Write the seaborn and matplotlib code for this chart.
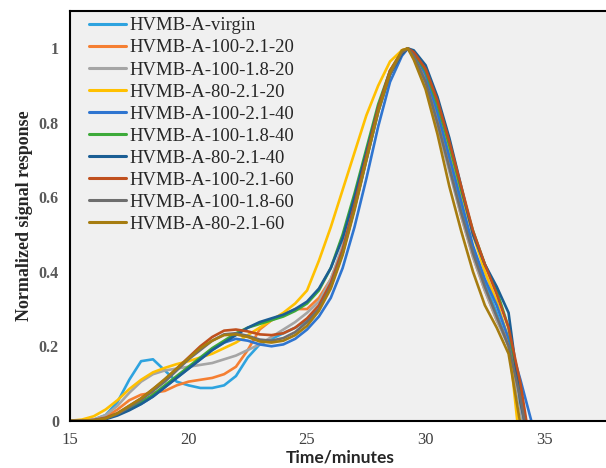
import numpy as np
import pandas as pd
import matplotlib
matplotlib.use('Agg')
import matplotlib.pyplot as plt
import seaborn as sns

# Shared time grid (minutes)
time_min = [15, 15.5, 16, 16.5, 17, 17.5, 18, 18.5, 19, 19.5, 20, 20.5, 21, 21.5,
            22, 22.5, 23, 23.5, 24, 24.5, 25, 25.5, 26, 26.5, 27, 27.5, 28, 28.5,
            29, 29.25, 29.5, 30, 30.5, 31, 31.5, 32, 32.5, 33, 33.5, 34, 34.5, 35]

# Normalized signal for each sample
virgin = [0, 0, 0.003, 0.015, 0.05, 0.11, 0.16, 0.165, 0.135, 0.105, 0.095, 0.088, 0.088, 0.095,
          0.12, 0.17, 0.205, 0.22, 0.235, 0.25, 0.27, 0.30, 0.36, 0.45, 0.57, 0.70, 0.83, 0.93,
          0.99, 1.0, 0.985, 0.92, 0.82, 0.69, 0.57, 0.46, 0.37, 0.29, 0.20, 0.05, -0.15, -0.3]
a100_21_20 = [0, 0, 0.002, 0.01, 0.03, 0.055, 0.07, 0.075, 0.08, 0.095, 0.105, 0.11, 0.115, 0.125,
              0.145, 0.19, 0.245, 0.27, 0.285, 0.30, 0.30, 0.33, 0.38, 0.46, 0.58, 0.71, 0.84, 0.94,
              0.995, 1.0, 0.98, 0.91, 0.80, 0.68, 0.55, 0.44, 0.35, 0.27, 0.21, 0.06, -0.1, -0.3]
a100_18_20 = [0, 0, 0.003, 0.015, 0.04, 0.075, 0.105, 0.125, 0.135, 0.14, 0.145, 0.15, 0.155, 0.165,
              0.175, 0.19, 0.205, 0.225, 0.245, 0.265, 0.29, 0.32, 0.38, 0.47, 0.59, 0.72, 0.84, 0.94,
              0.99, 1.0, 0.975, 0.90, 0.79, 0.67, 0.55, 0.44, 0.35, 0.27, 0.20, 0.03, -0.15, -0.3]
a80_21_20 = [0, 0.003, 0.012, 0.03, 0.055, 0.085, 0.11, 0.13, 0.142, 0.152, 0.16, 0.17, 0.18, 0.195,
             0.21, 0.23, 0.25, 0.27, 0.29, 0.315, 0.35, 0.43, 0.52, 0.62, 0.72, 0.82, 0.90, 0.965,
             0.995, 1.0, 0.985, 0.93, 0.84, 0.73, 0.61, 0.50, 0.40, 0.32, 0.22, -0.08, -0.3, -0.4]
a100_21_40 = [0, 0, 0, 0.006, 0.018, 0.03, 0.045, 0.065, 0.09, 0.115, 0.14, 0.165, 0.19, 0.21,
              0.22, 0.215, 0.205, 0.20, 0.205, 0.22, 0.245, 0.28, 0.33, 0.41, 0.52, 0.65, 0.79, 0.91,
              0.98, 1.0, 0.99, 0.93, 0.83, 0.71, 0.59, 0.47, 0.38, 0.31, 0.22, 0.11, -0.01, -0.2]
a100_18_40 = [0, 0, 0.001, 0.006, 0.018, 0.032, 0.05, 0.07, 0.095, 0.12, 0.145, 0.17, 0.195, 0.215,
              0.235, 0.25, 0.26, 0.27, 0.28, 0.295, 0.315, 0.35, 0.41, 0.50, 0.61, 0.73, 0.85, 0.94,
              0.99, 1.0, 0.99, 0.94, 0.85, 0.74, 0.62, 0.51, 0.42, 0.35, 0.25, 0.07, -0.1, -0.3]
a80_21_40 = [0, 0, 0, 0.004, 0.014, 0.028, 0.045, 0.065, 0.09, 0.115, 0.14, 0.165, 0.19, 0.21,
             0.23, 0.25, 0.265, 0.275, 0.285, 0.30, 0.32, 0.355, 0.41, 0.49, 0.60, 0.72, 0.84, 0.93,
             0.985, 1.0, 0.995, 0.955, 0.87, 0.76, 0.63, 0.50, 0.42, 0.36, 0.29, 0.05, -0.1, -0.3]
a100_21_60 = [0, 0, 0.002, 0.008, 0.02, 0.04, 0.06, 0.085, 0.11, 0.14, 0.17, 0.20, 0.225, 0.242,
              0.245, 0.24, 0.232, 0.23, 0.235, 0.25, 0.275, 0.31, 0.37, 0.46, 0.58, 0.71, 0.84, 0.94,
              0.99, 1.0, 0.99, 0.945, 0.86, 0.75, 0.63, 0.51, 0.42, 0.34, 0.25, 0.10, -0.1, -0.3]
a100_18_60 = [0, 0, 0.001, 0.006, 0.018, 0.036, 0.056, 0.08, 0.105, 0.135, 0.165, 0.19, 0.215, 0.232,
              0.235, 0.228, 0.218, 0.215, 0.222, 0.238, 0.265, 0.30, 0.36, 0.45, 0.57, 0.70, 0.83, 0.93,
              0.99, 1.0, 0.98, 0.91, 0.80, 0.68, 0.56, 0.45, 0.36, 0.28, 0.20, 0.06, -0.12, -0.3]
a80_21_60 = [0, 0, 0.001, 0.006, 0.02, 0.04, 0.06, 0.085, 0.112, 0.14, 0.168, 0.195, 0.215, 0.23,
             0.232, 0.225, 0.213, 0.21, 0.215, 0.23, 0.255, 0.295, 0.355, 0.445, 0.565, 0.70, 0.83, 0.935,
             0.995, 1.0, 0.97, 0.89, 0.77, 0.63, 0.51, 0.40, 0.31, 0.25, 0.18, -0.01, -0.2, -0.3]

names = ['HVMB-A-virgin', 'HVMB-A-100-2.1-20', 'HVMB-A-100-1.8-20', 'HVMB-A-80-2.1-20',
         'HVMB-A-100-2.1-40', 'HVMB-A-100-1.8-40', 'HVMB-A-80-2.1-40', 'HVMB-A-100-2.1-60',
         'HVMB-A-100-1.8-60', 'HVMB-A-80-2.1-60']
series = [virgin, a100_21_20, a100_18_20, a80_21_20, a100_21_40, a100_18_40,
          a80_21_40, a100_21_60, a100_18_60, a80_21_60]
colors = ['#2EA3DF', '#F57F32', '#A5A5A5', '#FFC000', '#2F75D0', '#3DAA3A',
          '#1B5E94', '#C0501E', '#6E6E6E', '#A67C10']

df = pd.concat([pd.DataFrame({'Time': time_min, 'Signal': s, 'Sample': n})
                for n, s in zip(names, series)], ignore_index=True)

sns.set_style('white')
fig = plt.figure(figsize=(6.06, 4.68), dpi=100)
ax = fig.add_axes([0.1155, 0.101, 0.978, 0.875])
ax.set_facecolor('#F0F0F0')

sns.lineplot(data=df, x='Time', y='Signal', hue='Sample', hue_order=names,
             palette=dict(zip(names, colors)), estimator=None, sort=False,
             linewidth=1.9, ax=ax)

ax.set_xlim(15, 40)
ax.set_ylim(0, 1.1)
ax.set_xticks([15, 20, 25, 30, 35])
ax.set_yticks([0, 0.2, 0.4, 0.6, 0.8, 1.0])
ax.set_yticklabels(['0', '0.2', '0.4', '0.6', '0.8', '1'])
ax.tick_params(length=0, pad=8)
for lab in ax.get_xticklabels():
    lab.set_fontfamily('Liberation Serif')
    lab.set_fontsize(12)
    lab.set_color('#404040')
for lab in ax.get_yticklabels():
    lab.set_fontfamily('Liberation Serif')
    lab.set_fontsize(11.5)
    lab.set_fontweight('bold')
    lab.set_color('#595959')

for sp in ax.spines.values():
    sp.set_color('black')
    sp.set_linewidth(1.5)

ax.set_xlabel('')
ax.set_ylabel('Normalized signal response', fontfamily='Liberation Serif',
              fontsize=13, fontweight='bold', labelpad=4)
fig.text(0.562, 0.022, 'Time/minutes', family='Lato', fontsize=12.5,
         fontweight='bold', ha='center', va='center')

leg = ax.legend(loc='upper left', bbox_to_anchor=(0.032, 0.985), frameon=False,
                borderpad=0, borderaxespad=0, handlelength=2.0, handletextpad=0.2,
                labelspacing=0.27, prop={'family': 'Liberation Serif', 'size': 13.4})
for line in leg.get_lines():
    line.set_linewidth(2.2)

fig.savefig('out.png', dpi=100)
